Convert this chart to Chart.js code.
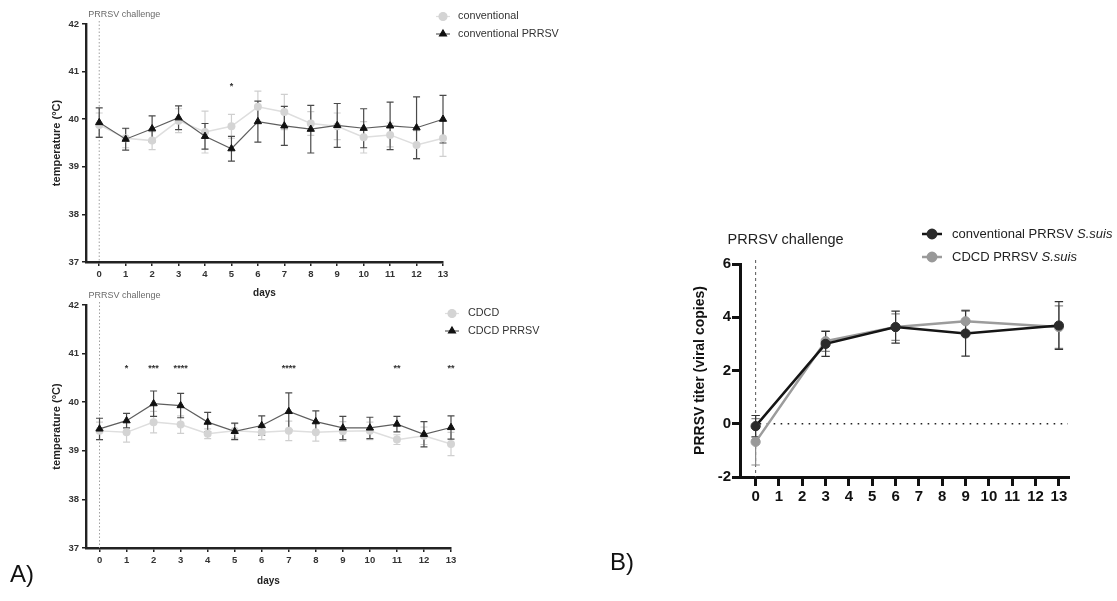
<!DOCTYPE html>
<html>
<head>
<meta charset="utf-8">
<script src="https://cdn.jsdelivr.net/npm/chart.js@4.4.1/dist/chart.umd.min.js"></script>
<style>
  html, body { margin: 0; padding: 0; background: #fff; }
  body { width: 1117px; height: 601px; position: relative; overflow: hidden; font-family: "Liberation Sans", Arial, sans-serif; }
  .box { position: absolute; }
  .tag { position: absolute; font-size: 24px; color: #111; line-height: 1; }
</style>
</head>
<body>
<div class="box" style="left:0;top:0;width:600px;height:300px"><canvas id="conv"></canvas></div>
<div class="box" style="left:0;top:280px;width:600px;height:308px"><canvas id="cdcd"></canvas></div>
<div class="box" style="left:600px;top:200px;width:517px;height:320px"><canvas id="titer"></canvas></div>
<div class="tag" style="left:10px;top:562px">A)</div>
<div class="tag" style="left:610px;top:550px">B)</div>
<script>
// ---- data ----
const days = [0, 1, 2, 3, 4, 5, 6, 7, 8, 9, 10, 11, 12, 13];

// panel A top: conventional pigs, body temperature (°C), mean and SD
const convTemp       = [39.88, 39.60, 39.55, 39.97, 39.73, 39.85, 40.26, 40.15, 39.91, 39.85, 39.62, 39.67, 39.46, 39.60];
const convSd         = [0.25, 0.20, 0.19, 0.25, 0.44, 0.25, 0.33, 0.37, 0.25, 0.28, 0.33, 0.25, 0.30, 0.38];
const convPrrsvTemp  = [39.93, 39.58, 39.80, 40.03, 39.64, 39.38, 39.95, 39.86, 39.79, 39.87, 39.81, 39.86, 39.82, 40.00];
const convPrrsvSd    = [0.31, 0.23, 0.27, 0.25, 0.27, 0.26, 0.43, 0.41, 0.50, 0.46, 0.41, 0.50, 0.65, 0.50];
const convSigDays    = [5];
const convSigLabels  = ['*'];

// panel A bottom: CDCD pigs
const cdcdTemp       = [39.41, 39.38, 39.59, 39.54, 39.35, 39.41, 39.38, 39.41, 39.38, 39.40, 39.41, 39.23, 39.31, 39.14];
const cdcdSd         = [0.18, 0.20, 0.22, 0.18, 0.10, 0.15, 0.15, 0.20, 0.18, 0.20, 0.18, 0.10, 0.18, 0.24];
const cdcdPrrsvTemp  = [39.45, 39.62, 39.97, 39.93, 39.59, 39.40, 39.52, 39.81, 39.60, 39.47, 39.47, 39.55, 39.34, 39.48];
const cdcdPrrsvSd    = [0.22, 0.15, 0.26, 0.25, 0.20, 0.17, 0.20, 0.38, 0.22, 0.24, 0.22, 0.16, 0.26, 0.24];
const cdcdSigDays    = [1, 2, 3, 7, 11, 13];
const cdcdSigLabels  = ['*', '***', '****', '****', '**', '**'];
const sigLevel       = 40.75;

const tempTicks = [37, 38, 39, 40, 41, 42];

// panel B: PRRSV titer
const titerDays      = [0, 3, 6, 9, 13];
const convTiter      = [-0.09, 3.00, 3.63, 3.39, 3.69];
const convTiterSd    = [0.40, 0.47, 0.60, 0.85, 0.90];
const cdcdTiter      = [-0.68, 3.10, 3.63, 3.85, 3.63];
const cdcdTiterSd    = [0.87, 0.38, 0.50, 0.42, 0.80];
const titerTicks     = [-2, 0, 2, 4, 6];

const FONT = '"Liberation Sans", Arial, sans-serif';
const pts = (xs, ys) => xs.map((x, i) => ({ x: x, y: ys[i] }));

// error bars, challenge line, legend, stars
const overlay = {
  id: 'overlay',
  beforeDatasetsDraw(chart, args, o) {
    const { ctx, chartArea: a, scales: { x, y } } = chart;
    const x0 = x.getPixelForValue(0);
    ctx.save();
    ctx.lineWidth = o.markWidth;
    ctx.strokeStyle = o.markColor;
    ctx.setLineDash(o.markDash);
    ctx.beginPath();
    ctx.moveTo(x0, a.top - o.markAbove);
    ctx.lineTo(x0, a.bottom);
    ctx.stroke();
    if (o.zeroLine) {
      const y0 = y.getPixelForValue(0);
      ctx.strokeStyle = '#222';
      ctx.lineWidth = 1.6;
      ctx.setLineDash([1.6, 5.4]);
      ctx.beginPath();
      ctx.moveTo(x0 + 4, y0);
      ctx.lineTo(a.right, y0);
      ctx.stroke();
    }
    ctx.setLineDash([]);
    chart.data.datasets.slice().reverse().forEach(ds => {
      if (!ds.sd) return;
      ctx.strokeStyle = ds.barColor;
      ctx.lineWidth = 1.2;
      ds.data.forEach((p, j) => {
        const px = x.getPixelForValue(p.x);
        const hi = y.getPixelForValue(p.y + ds.sd[j]);
        const lo = y.getPixelForValue(p.y - ds.sd[j]);
        ctx.beginPath();
        ctx.moveTo(px, hi); ctx.lineTo(px, lo);
        ctx.moveTo(px - o.cap, hi); ctx.lineTo(px + o.cap, hi);
        ctx.moveTo(px - o.cap, lo); ctx.lineTo(px + o.cap, lo);
        ctx.stroke();
      });
    });
    ctx.restore();
  },
  afterDraw(chart, args, o) {
    const { ctx, chartArea: a, scales: { x, y } } = chart;
    const x0 = x.getPixelForValue(0);
    ctx.save();
    // challenge label
    ctx.fillStyle = o.challengeColor;
    ctx.font = o.challengeFont;
    ctx.textAlign = o.challengeAlign;
    ctx.textBaseline = 'middle';
    ctx.fillText('PRRSV challenge', x0 + o.challengeDx, a.top + o.challengeDy);
    // significance stars
    if (o.sigDays) {
      ctx.fillStyle = '#333';
      ctx.font = 'bold 9px ' + FONT;
      ctx.textAlign = 'center';
      ctx.textBaseline = 'alphabetic';
      o.sigDays.forEach((d, i) => {
        ctx.fillText(o.sigLabels[i], x.getPixelForValue(d), y.getPixelForValue(sigLevel) + 5);
      });
    }
    // legend
    const L = o.legend;
    L.order.forEach((di, row) => {
      const ds = chart.data.datasets[di];
      const cy = L.y + row * L.gap;
      ctx.strokeStyle = ds.borderColor;
      ctx.lineWidth = L.lineWidth;
      ctx.beginPath();
      ctx.moveTo(L.x - L.half, cy); ctx.lineTo(L.x + L.half, cy);
      ctx.stroke();
      ctx.fillStyle = ds.pointBackgroundColor;
      ctx.strokeStyle = ds.pointBackgroundColor;
      Chart.helpers.drawPoint(ctx, { pointStyle: ds.pointStyle, radius: L.radius, borderWidth: 1, rotation: 0 }, L.x, cy);
      ctx.fillStyle = L.color;
      ctx.textAlign = 'left';
      ctx.textBaseline = 'middle';
      let tx = L.tx;
      ds.label.split(' ').forEach((w, k) => {
        ctx.font = (/^S\./.test(w) ? 'italic ' : '') + L.size + 'px ' + FONT;
        const word = (k ? ' ' : '') + w;
        ctx.fillText(word, tx, cy);
        tx += ctx.measureText(word).width;
      });
    });
    ctx.restore();
  }
};

function tempChart(id, grayLabel, gray, graySd, blackLabel, black, blackSd, sigDays, sigLabels, lay) {
  return new Chart(document.getElementById(id), {
    type: 'line',
    data: {
      datasets: [
        {
          label: blackLabel, data: pts(days, black), sd: blackSd, barColor: '#4a4a4a',
          borderColor: '#5e5e5e', borderWidth: 1.2, pointStyle: 'triangle', pointRadius: 4.2,
          pointBackgroundColor: '#111', pointBorderColor: '#111', pointBorderWidth: 1, order: 1, clip: false
        },
        {
          label: grayLabel, data: pts(days, gray), sd: graySd, barColor: '#cfcfcf',
          borderColor: '#dedede', borderWidth: 1.5, pointStyle: 'circle', pointRadius: 4,
          pointBackgroundColor: '#d4d4d4', pointBorderColor: '#d4d4d4', pointBorderWidth: 0, order: 2, clip: false
        }
      ]
    },
    options: {
      responsive: true, maintainAspectRatio: false, animation: false,
      layout: { padding: { left: 46, right: lay.right, top: lay.top, bottom: 0 } },
      plugins: {
        legend: { display: false }, tooltip: { enabled: false },
        overlay: {
          markColor: '#a0a0a0', markDash: [1.5, 2], markWidth: 1, markAbove: 3,
          cap: 3.5, challengeColor: '#6a6a6a', challengeFont: '9px ' + FONT, challengeAlign: 'left',
          challengeDx: -11, challengeDy: -9, sigDays: sigDays, sigLabels: sigLabels,
          legend: { order: [1, 0], x: lay.lx, y: lay.ly, gap: 17.5, half: 7, tx: lay.tx, radius: 4, lineWidth: 1.2, size: 10.8, color: '#333' }
        }
      },
      scales: {
        x: {
          type: 'linear', min: -0.5, max: 13,
          afterBuildTicks: s => { s.ticks = days.map(v => ({ value: v })); },
          afterFit: s => { s.height = lay.xh; },
          grid: { drawOnChartArea: false, tickLength: 4, color: '#222', lineWidth: 1.5 },
          border: { display: true, color: '#222', width: 2.4 },
          ticks: { font: { family: FONT, size: 9.5, weight: 'bold' }, color: '#333', padding: 3, maxRotation: 0, autoSkip: false },
          title: { display: true, text: 'days', font: { family: FONT, size: 10, weight: 'bold' }, color: '#222', padding: { top: 0, bottom: 1 } }
        },
        y: {
          min: 37, max: 42,
          afterBuildTicks: s => { s.ticks = tempTicks.map(v => ({ value: v })); },
          afterFit: s => { s.width = 40; },
          grid: { drawOnChartArea: false, tickLength: 4, color: '#222', lineWidth: 1.5 },
          border: { display: true, color: '#222', width: 2.4 },
          ticks: { font: { family: FONT, size: 9.5, weight: 'bold' }, color: '#333', padding: 3 },
          title: { display: true, text: 'temperature (°C)', font: { family: FONT, size: 11, weight: 'bold' }, color: '#222', padding: { top: 4, bottom: 0 } }
        }
      }
    },
    plugins: [overlay]
  });
}

tempChart('conv', 'conventional', convTemp, convSd, 'conventional PRRSV', convPrrsvTemp, convPrrsvSd,
  convSigDays, convSigLabels, { right: 157, top: 24, xh: 38, lx: 443, ly: 16.5, tx: 458 });
tempChart('cdcd', 'CDCD', cdcdTemp, cdcdSd, 'CDCD PRRSV', cdcdPrrsvTemp, cdcdPrrsvSd,
  cdcdSigDays, cdcdSigLabels, { right: 149, top: 25, xh: 40, lx: 452, ly: 33.5, tx: 468 });

new Chart(document.getElementById('titer'), {
  type: 'line',
  data: {
    datasets: [
      {
        label: 'conventional PRRSV S.suis', data: pts(titerDays, convTiter), sd: convTiterSd, barColor: '#333',
        borderColor: '#151515', borderWidth: 2.5, pointStyle: 'circle', pointRadius: 4.6,
        pointBackgroundColor: '#2b2b2b', pointBorderColor: '#2b2b2b', pointBorderWidth: 1, order: 1, clip: false
      },
      {
        label: 'CDCD PRRSV S.suis', data: pts(titerDays, cdcdTiter), sd: cdcdTiterSd, barColor: '#8a8a8a',
        borderColor: '#9c9c9c', borderWidth: 2.5, pointStyle: 'circle', pointRadius: 4.6,
        pointBackgroundColor: '#999', pointBorderColor: '#999', pointBorderWidth: 1, order: 2, clip: false
      }
    ]
  },
  options: {
    responsive: true, maintainAspectRatio: false, animation: false,
    layout: { padding: { left: 88, right: 49, top: 64, bottom: 0 } },
    plugins: {
      legend: { display: false }, tooltip: { enabled: false },
      overlay: {
        markColor: '#555', markDash: [3, 3], markWidth: 1, markAbove: 4, zeroLine: true,
        cap: 4.2, challengeColor: '#222', challengeFont: '14.5px ' + FONT, challengeAlign: 'center',
        challengeDx: 30, challengeDy: -24,
        legend: { order: [0, 1], x: 332, y: 34, gap: 23, half: 10, tx: 352, radius: 4.2, lineWidth: 2.5, size: 13, color: '#222' }
      }
    },
    scales: {
      x: {
        type: 'linear', min: -0.67, max: 13.39,
        afterBuildTicks: s => { s.ticks = days.map(v => ({ value: v })); },
        afterFit: s => { s.height = 43; },
        grid: { drawOnChartArea: false, tickLength: 9, color: '#111', lineWidth: 3 },
        border: { display: true, color: '#111', width: 3 },
        ticks: { font: { family: FONT, size: 15, weight: 'bold' }, color: '#111', padding: 2, maxRotation: 0, autoSkip: false }
      },
      y: {
        min: -2, max: 6,
        afterBuildTicks: s => { s.ticks = titerTicks.map(v => ({ value: v })); },
        afterFit: s => { s.width = 52; },
        grid: { drawOnChartArea: false, tickLength: 8, color: '#111', lineWidth: 3 },
        border: { display: true, color: '#111', width: 3 },
        ticks: { font: { family: FONT, size: 15, weight: 'bold' }, color: '#111', padding: 1 },
        title: { display: true, text: 'PRRSV titer (viral copies)', font: { family: FONT, size: 14, weight: 'bold' }, color: '#111', padding: { top: 4, bottom: 0 } }
      }
    }
  },
  plugins: [overlay]
});
</script>
</body>
</html>
